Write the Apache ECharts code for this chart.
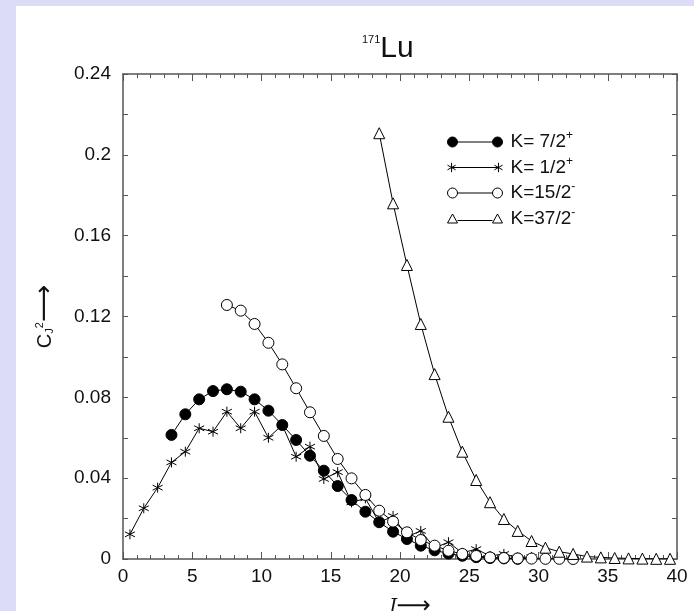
<!DOCTYPE html>
<html><head><meta charset="utf-8">
<script src="https://cdn.jsdelivr.net/npm/echarts@6/dist/echarts.min.js"></script>
<style>html,body{margin:0;padding:0;background:#dcdcf7}#c{width:694px;height:611px}</style>
</head><body><div id="c"></div>
<script>
// K = 7/2+ (filled circles)
const jA = [3.5,4.5,5.5,6.5,7.5,8.5,9.5,10.5,11.5,12.5,13.5,14.5,15.5,16.5,17.5,18.5,19.5,20.5,21.5,22.5,23.5,24.5,25.5,26.5,27.5,28.5];
const cA = [0.0614,0.0716,0.079,0.0831,0.084,0.0828,0.079,0.0734,0.0663,0.0589,0.0511,0.0437,0.0361,0.0292,0.0234,0.0182,0.0135,0.0099,0.0066,0.0043,0.0027,0.0016,0.0009,0.0005,0.0003,0.0001];
// K = 1/2+ (asterisks)
const jB = [0.5,1.5,2.5,3.5,4.5,5.5,6.5,7.5,8.5,9.5,10.5,11.5,12.5,13.5,14.5,15.5,16.5,17.5,18.5,19.5,20.5,21.5,22.5,23.5,24.5,25.5,26.5,27.5,28.5,29.5];
const cB = [0.0122,0.0251,0.0353,0.0478,0.0531,0.0647,0.063,0.0729,0.0647,0.0729,0.060,0.0663,0.0506,0.0556,0.0396,0.043,0.028,0.030,0.018,0.0213,0.011,0.0139,0.0055,0.0083,0.003,0.0049,0.0015,0.0025,0.0007,0.001];
// K = 15/2- (open circles)
const jC = [7.5,8.5,9.5,10.5,11.5,12.5,13.5,14.5,15.5,16.5,17.5,18.5,19.5,20.5,21.5,22.5,23.5,24.5,25.5,26.5,27.5,28.5,29.5,30.5,31.5,32.5];
const cC = [0.1257,0.1229,0.1163,0.107,0.0963,0.0845,0.0726,0.0609,0.0495,0.0399,0.0317,0.0239,0.0185,0.0132,0.0094,0.0066,0.0041,0.0025,0.0015,0.0008,0.0005,0.0003,0.0002,0.0001,0.0001,0.0000];
// K = 37/2- (open triangles)
const jD = [18.5,19.5,20.5,21.5,22.5,23.5,24.5,25.5,26.5,27.5,28.5,29.5,30.5,31.5,32.5,33.5,34.5,35.5,36.5,37.5,38.5,39.5];
const cD = [0.2107,0.176,0.1455,0.1163,0.0915,0.0704,0.0531,0.0391,0.0281,0.0198,0.0139,0.0089,0.0056,0.0036,0.0025,0.0012,0.0008,0.0005,0.0003,0.0002,0.0001,0.0001];

const xTicks = [0,5,10,15,20,25,30,35,40];
const yTicks = [0,0.04,0.08,0.12,0.16,0.2,0.24];
const names = ['K= 7/2+','K= 1/2+','K=15/2-','K=37/2-'];
const legendText = ['{t|K= 7/2}{p|+}','{t|K= 1/2}{p|+}','{t|K=15/2}{p|-}','{t|K=37/2}{p|-}'];

const FONT = 'Liberation Sans';
const AX = '#555';
const starPath = 'path://M5,0L5,10M0.67,2.5L9.33,7.5M0.67,7.5L9.33,2.5';
const pair = (xs, ys) => xs.map((x, i) => [x, ys[i]]);

const chart = echarts.init(document.getElementById('c'), null, {renderer: 'canvas'});
const baseX = {
  type: 'value', min: 0, max: 40, interval: 5, gridIndex: 0,
  axisLine: {show: true, onZero: false, lineStyle: {color: AX, width: 1.5}},
  axisTick: {show: true, inside: true, length: 7, lineStyle: {color: AX, width: 1}},
  minorTick: {show: true, splitNumber: 5, length: 4, lineStyle: {color: AX, width: 1}},
  splitLine: {show: false}, minorSplitLine: {show: false}
};
const baseY = {
  type: 'value', min: 0, max: 0.24, interval: 0.04, gridIndex: 0,
  axisLine: {show: true, onZero: false, lineStyle: {color: AX, width: 1.5}},
  axisTick: {show: true, inside: true, length: 5, lineStyle: {color: AX, width: 1}},
  minorTick: {show: true, splitNumber: 2, length: 5, lineStyle: {color: AX, width: 1}},
  splitLine: {show: false}, minorSplitLine: {show: false}
};
const mk = (name, xs, ys, symbol, size, fill) => ({
  name, type: 'line', data: pair(xs, ys), xAxisIndex: 0, yAxisIndex: 0,
  symbol, symbolSize: size, showAllSymbol: true, color: '#000',
  lineStyle: {color: '#000', width: 1},
  itemStyle: {color: fill, borderColor: '#000', borderWidth: 1},
  emphasis: {disabled: true}, animation: false, z: 3
});
const iconCircle = 'path://M0,5A5,5 0 1,1 10,5A5,5 0 1,1 0,5ZM10,5L45,5M45,5A5,5 0 1,1 55,5A5,5 0 1,1 45,5Z';
const iconStar = 'path://M5,0.5L5,9.5M1.1,2.75L8.9,7.25M1.1,7.25L8.9,2.75M5,5L50,5M50,0.5L50,9.5M46.1,2.75L53.9,7.25M46.1,7.25L53.9,2.75';
const iconTri = 'path://M5,0.5L10,9.5L0,9.5ZM10,7L45,7M50,0.5L55,9.5L45,9.5Z';

chart.setOption({
  backgroundColor: '#dcdcf7',
  animation: false,
  graphic: [{type: 'rect', shape: {x: 16, y: 6, width: 700, height: 620}, style: {fill: '#fff'}, z: -10, silent: true}],
  title: {
    text: '{s|171}{b|Lu}', left: 362, top: 34, padding: 0,
    textStyle: {fontWeight: 'normal', rich: {
      s: {fontSize: 11, fontFamily: FONT, fontWeight: 'normal', color: '#111', verticalAlign: 'top', lineHeight: 30},
      b: {fontSize: 30, fontFamily: FONT, fontWeight: 'normal', color: '#111', verticalAlign: 'bottom', lineHeight: 30}
    }}
  },
  grid: {left: 123, top: 74, right: 17, bottom: 52, containLabel: false, outerBoundsMode: 'none'},
  legend: {
    orient: 'vertical', left: 447, top: 130, padding: 0, itemWidth: 55, itemHeight: 11, itemGap: 4,
    data: [
      {name: names[0], icon: iconCircle, itemStyle: {color: '#000', borderColor: '#000', borderWidth: 1}},
      {name: names[1], icon: iconStar, itemStyle: {color: '#000', borderColor: '#000', borderWidth: 1}},
      {name: names[2], icon: iconCircle, itemStyle: {color: '#fff', borderColor: '#000', borderWidth: 1}},
      {name: names[3], icon: iconTri, itemStyle: {color: '#fff', borderColor: '#000', borderWidth: 1}}
    ],
    formatter: n => legendText[names.indexOf(n)],
    textStyle: {rich: {
      t: {fontSize: 19, fontFamily: FONT, color: '#111', padding: [0, 0, 0, 3]},
      p: {fontSize: 12, fontFamily: FONT, color: '#111', padding: [0, 0, 12, 0]}
    }},
    selectedMode: false
  },
  xAxis: [
    Object.assign({}, baseX, {
      position: 'bottom',
      axisLabel: {fontSize: 19, fontFamily: FONT, color: '#111', margin: 8,
        formatter: v => xTicks.includes(v) ? String(v) : ''},
      name: '{j|J}{a|⟶}', nameLocation: 'middle', nameGap: 36,
      nameTextStyle: {padding: [0, 0, 0, 20], rich: {
        j: {fontSize: 19, fontFamily: 'DejaVu Serif', fontStyle: 'italic', color: '#111'},
        a: {fontSize: 24, fontFamily: 'DejaVu Sans', color: '#111'}
      }}
    }),
    Object.assign({}, baseX, {position: 'top', axisLabel: {show: false}})
  ],
  yAxis: [
    Object.assign({}, baseY, {
      position: 'left',
      axisLabel: {fontSize: 19, fontFamily: FONT, color: '#111', margin: 12,
        formatter: v => {
          const k = yTicks.findIndex(t => Math.abs(t - v) < 1e-9);
          return k < 0 ? '' : (v === 0 ? '0' : String(+v.toFixed(2)));
        }},
      name: '{c|C}{s|J}{p|2}{a|⟶}', nameLocation: 'middle', nameGap: 65, nameRotate: 90,
      nameTextStyle: {padding: [0, 0, 0, 0], rich: {
        c: {fontSize: 20, fontFamily: FONT, color: '#111'},
        s: {fontSize: 11, fontFamily: FONT, color: '#111', padding: [9, 0, 0, 0]},
        p: {fontSize: 11, fontFamily: FONT, color: '#111', padding: [0, 0, 11, 0]},
        a: {fontSize: 26, fontFamily: 'DejaVu Sans', color: '#111'}
      }}
    }),
    Object.assign({}, baseY, {position: 'right', axisLabel: {show: false}})
  ],
  series: [
    mk(names[0], jA, cA, 'circle', 11, '#000'),
    mk(names[1], jB, cB, starPath, 10, '#000'),
    mk(names[2], jC, cC, 'circle', 11, '#fff'),
    mk(names[3], jD, cD, 'triangle', 11, '#fff')
  ]
});
</script></body></html>
